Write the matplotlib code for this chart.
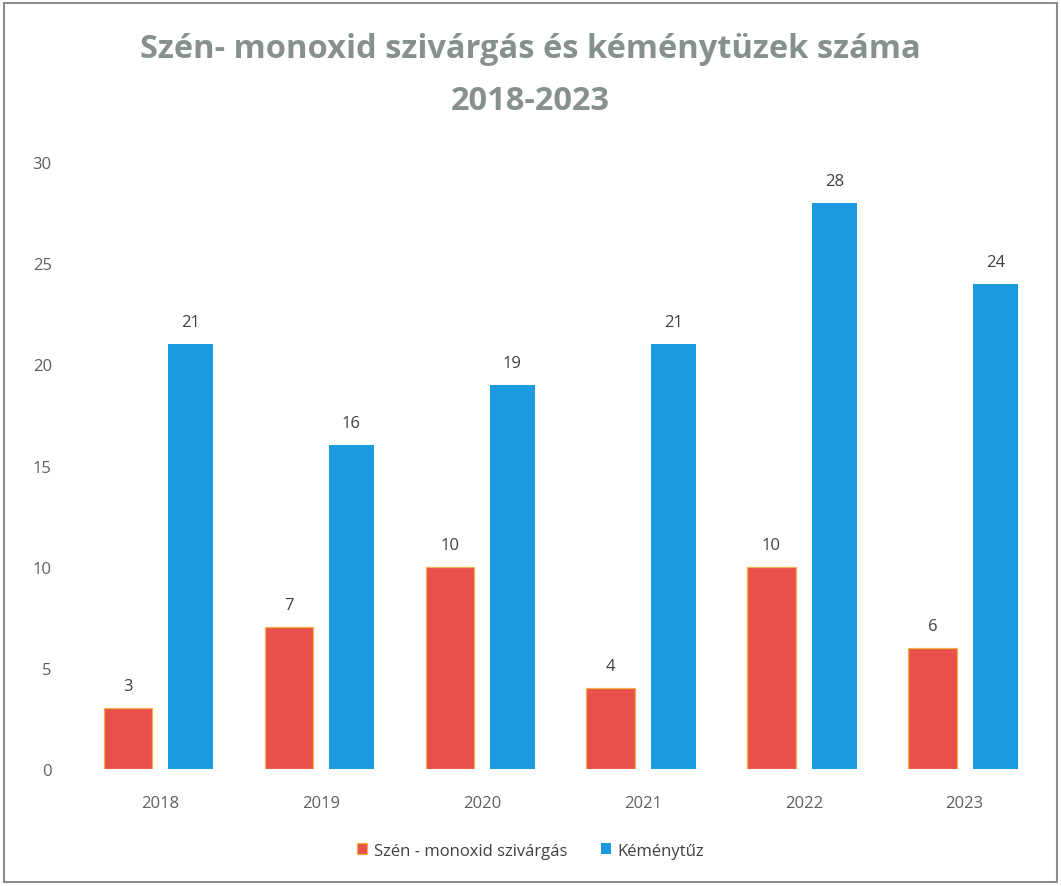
import numpy as np
import matplotlib.pyplot as plt
from matplotlib.patches import Rectangle

years = ["2018", "2019", "2020", "2021", "2022", "2023"]
co_leak = [3, 7, 10, 4, 10, 6]
chimney_fire = [21, 16, 19, 21, 28, 24]

plt.rcParams['font.family'] = ['Open Sans', 'DejaVu Sans']

fig = plt.figure(figsize=(10.61, 8.87), dpi=100)
ax = fig.add_axes([0.075, 0.132, 0.91, 0.684])

x = np.arange(len(years))
red = '#e8504a'
blue = '#1a9be0'

b1 = ax.bar(x - 0.2, co_leak, 0.3, color=red, edgecolor='#f3b04a', linewidth=0.9,
            label='Szén - monoxid szivárgás')
b2 = ax.bar(x + 0.19, chimney_fire, 0.28, color=blue, label='Kéménytűz')

for bars in (b1, b2):
    ax.bar_label(bars, padding=10, fontsize=12, color='#404040')

ax.set_xlim(-0.5, len(years) - 0.5)
ax.set_ylim(0, 30)
ax.set_yticks(range(0, 31, 5))
ax.set_xticks(x)
ax.set_xticklabels(years)
ax.tick_params(axis='both', length=0, labelsize=12, colors='#5f5f5f')
ax.tick_params(axis='x', pad=19)
ax.tick_params(axis='y', pad=20)
for s in ax.spines.values():
    s.set_visible(False)

fig.suptitle("Szén- monoxid szivárgás és kéménytüzek száma\n2018-2023",
             y=0.963, fontsize=23.5, fontweight='bold', color='#86918f', linespacing=1.75)

fig.legend(loc='center', bbox_to_anchor=(0.5, 0.04), ncol=2, frameon=False,
           fontsize=12, handlelength=0.6, handleheight=0.6, handletextpad=0.4,
           columnspacing=2.0, labelcolor='#404040')

fig.patches.append(Rectangle((0.004, 0.004), 0.992, 0.992, transform=fig.transFigure,
                             fill=False, edgecolor='#8c8c8c', linewidth=1.5))

fig.savefig('out.png', dpi=100)
